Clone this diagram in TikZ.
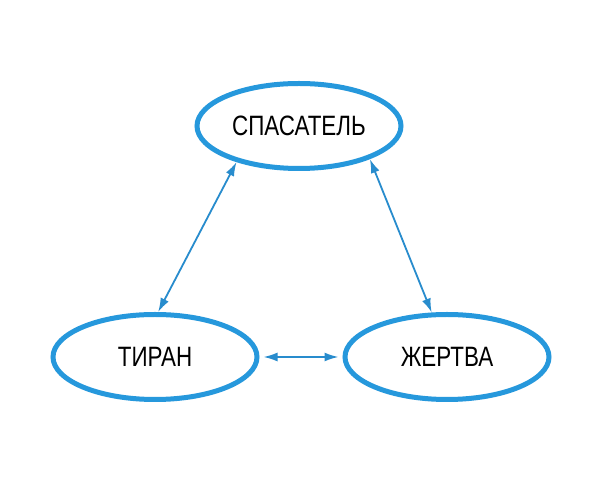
\documentclass[tikz,border=0pt]{standalone}
\usepackage{fontspec}
\setmainfont{Liberation Sans}
\newfontfamily\narfont[FakeStretch=0.8]{Liberation Sans}
\usetikzlibrary{shapes.geometric,arrows.meta}
\definecolor{rolblue}{RGB}{38,152,220}
\definecolor{arrblue}{RGB}{40,140,205}
\tikzset{
  role/.style={ellipse, draw=rolblue, line width=5pt, minimum width=204pt, minimum height=85pt, inner sep=0pt, font=\narfont\fontsize{28pt}{30pt}\selectfont, text=black},
  link/.style={draw=arrblue, line width=1.8pt, {Latex[length=14pt,width=9pt]}-{Latex[length=14pt,width=9pt]}}
}
\begin{document}
\begin{tikzpicture}[x=1pt,y=1pt]
\useasboundingbox[fill=white] (0,0) rectangle (600,500);
\node[role] (sp) at (299,374) {СПАСАТЕЛЬ};
\node[role] (ti) at (155,143) {ТИРАН};
\node[role] (zh) at (447,143) {ЖЕРТВА};
\draw[link] (sp.210.8) -- (ti.86.7);
\draw[link] (sp.335.3) -- (zh.109);
\draw[link, shorten <=4pt, shorten >=4pt] (ti.0) -- (zh.180);
\end{tikzpicture}
\end{document}
